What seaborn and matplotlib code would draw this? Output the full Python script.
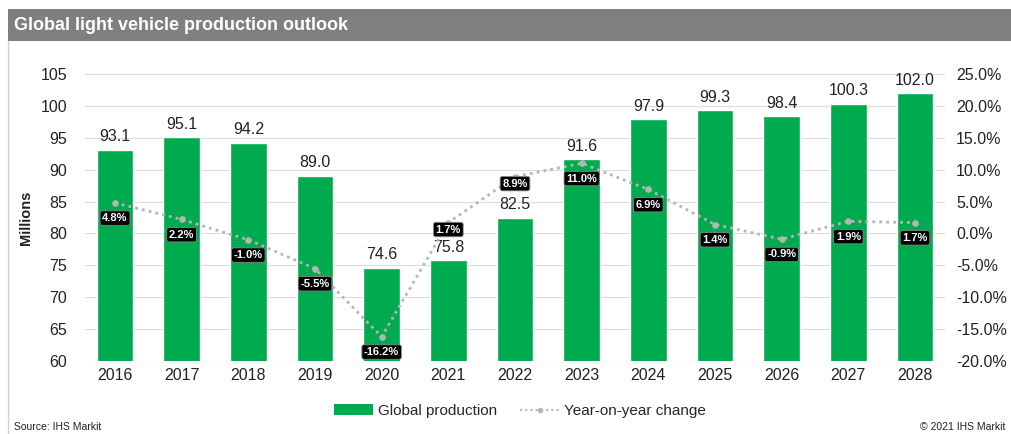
import matplotlib
matplotlib.use("Agg")
import matplotlib.pyplot as plt
import seaborn as sns
import pandas as pd
from matplotlib.patches import Rectangle, Patch
from matplotlib.lines import Line2D
import matplotlib.ticker as mticker

years = ["2016", "2017", "2018", "2019", "2020", "2021", "2022", "2023",
         "2024", "2025", "2026", "2027", "2028"]
production = [93.1, 95.1, 94.2, 89.0, 74.6, 75.8, 82.5, 91.6, 97.9, 99.3, 98.4, 100.3, 102.0]
yoy_change = [4.8, 2.2, -1.0, -5.5, -16.2, 1.7, 8.9, 11.0, 6.9, 1.4, -0.9, 1.9, 1.7]

df = pd.DataFrame({"year": years, "production": production, "yoy": yoy_change})

sns.set_theme(style="white")
plt.rcParams["font.family"] = ["Liberation Sans", "DejaVu Sans"]

GREEN = "#00ab4f"
GREY_LINE = "#b5b5b5"
TEXT = "#222222"

fig = plt.figure(figsize=(10.11, 4.34), dpi=100)
fig.patch.set_facecolor("white")

# Title bar
fig.add_artist(Rectangle((8 / 1011, 1 - 41 / 434), 1 - 8 / 1011, 32 / 434,
                         transform=fig.transFigure, facecolor="#7f7f7f",
                         edgecolor="none", zorder=0))
fig.text(14 / 1011, 1 - 25 / 434, "Global light vehicle production outlook",
         color="white", fontsize=13, fontweight="bold", va="center", ha="left")
fig.add_artist(Line2D([8 / 1011, 8 / 1011], [0, 1 - 41 / 434],
                      transform=fig.transFigure, color="#d0d0d0", lw=1))

ax = fig.add_axes([85 / 1011, 1 - 361 / 434, 860 / 1011, 287 / 434])
sns.barplot(data=df, x="year", y="production", color=GREEN, width=0.55,
            saturation=1, ax=ax, zorder=2)
ax.set_ylim(60, 105)
ax.set_xlim(-0.45, len(years) - 0.55)
ax.set_yticks(range(60, 106, 5))
ax.yaxis.grid(True, color="#dcdcdc", lw=0.8, zorder=0)
ax.set_axisbelow(True)
for s in ax.spines.values():
    s.set_visible(False)
ax.set_xlabel("")
ax.set_ylabel("Millions", fontsize=10.5, fontweight="bold", color=TEXT, labelpad=5)
ax.tick_params(axis="both", labelsize=11.5, colors=TEXT, length=0)
ax.tick_params(axis="x", pad=5)
ax.tick_params(axis="y", pad=13)

for i, v in enumerate(production):
    ax.annotate(f"{v:.1f}", (i, v), xytext=(0, 4), textcoords="offset points",
                ha="center", va="bottom", fontsize=11.5, color=TEXT)

ax2 = ax.twinx()
sns.lineplot(x=list(range(len(years))), y=yoy_change, ax=ax2, color=GREY_LINE,
             lw=2, linestyle=(0, (1, 1.5)), marker="o", markersize=4,
             markeredgecolor=GREY_LINE, zorder=3)
ax2.set_ylim(-20, 25)
ax2.set_yticks(range(-20, 26, 5))
ax2.yaxis.set_major_formatter(mticker.FuncFormatter(lambda v, p: f"{v:.1f}%"))
for s in ax2.spines.values():
    s.set_visible(False)
ax2.tick_params(axis="y", labelsize=11.5, colors=TEXT, length=0, pad=8)
ax2.grid(False)

# place YoY labels below their points, unless that would collide with a bar value label
px_per_unit = 287 / 45
for i, v in enumerate(yoy_change):
    point_px = (25 - v) * px_per_unit          # from top of axes
    bar_top_px = (105 - production[i]) * px_per_unit
    gap = bar_top_px - point_px
    off = -5 if 0 < gap < 60 else -11
    ax2.annotate(f"{v:.1f}%", (i, v), xytext=(0, off), textcoords="offset points",
                 ha="center", va="center", fontsize=8, fontweight="bold",
                 color="white",
                 bbox=dict(boxstyle="round,pad=0.2,rounding_size=0.2",
                           fc="black", ec="#888888", lw=0.6))

handles = [Patch(facecolor=GREEN, edgecolor="none", label="Global production"),
           Line2D([0], [0], color=GREY_LINE, lw=1.5, linestyle=(0, (1, 1.5)),
                  marker="o", markersize=3, label="Year-on-year change")]
fig.legend(handles=handles, loc="center", bbox_to_anchor=(520 / 1011, 1 - 411 / 434),
           ncol=2, frameon=False, fontsize=11, handlelength=2.6,
           columnspacing=1.5, handletextpad=0.3)

fig.text(14 / 1011, 1 - 427 / 434, "Source: IHS Markit", fontsize=7.5,
         color=TEXT, va="center", ha="left")
fig.text(1005 / 1011, 1 - 427 / 434, "© 2021 IHS Markit", fontsize=7.5,
         color=TEXT, va="center", ha="right")

fig.savefig("out.png", dpi=100)
